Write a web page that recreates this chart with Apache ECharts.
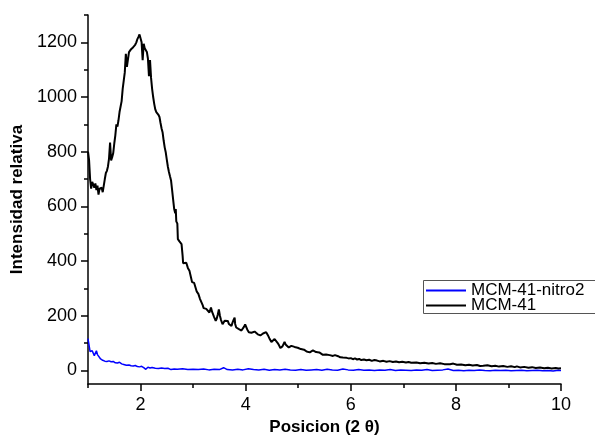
<!DOCTYPE html>
<html>
<head>
<meta charset="utf-8">
<script src="https://cdn.jsdelivr.net/npm/echarts@6/dist/echarts.min.js"></script>
<style>html,body{margin:0;padding:0;background:#fff}#c{width:595px;height:441px}</style>
</head>
<body>
<div id="c"></div>
<script>
// ---- data ----
var seriesNames = ['MCM-41-nitro2', 'MCM-41'];
var xTickLabels = [2, 4, 6, 8, 10];
var xMinorTicks = [1, 3, 5, 7, 9];
var yTickLabels = [0, 200, 400, 600, 800, 1000, 1200];
var yMinorTicks = [100, 300, 500, 700, 900, 1100, 1300];

var mcm41 = [
[1.00,800],[1.02,770],[1.04,700],[1.06,665],[1.08,690],[1.10,680],[1.12,668],[1.14,684],[1.16,660],[1.18,676],
[1.20,643],[1.22,665],[1.24,672],[1.26,668],[1.28,652],[1.30,648],[1.32,700],[1.34,722],[1.36,730],[1.38,746],
[1.40,775],[1.42,833],[1.44,768],[1.46,780],[1.48,795],[1.50,830],[1.52,860],[1.54,900],[1.56,892],[1.58,915],
[1.60,945],[1.62,940],[1.64,985],[1.66,1030],[1.68,1060],[1.70,1090],[1.72,1158],[1.74,1110],[1.76,1115],[1.78,1164],
[1.80,1160],[1.82,1175],[1.84,1172],[1.86,1182],[1.88,1188],[1.90,1192],[1.92,1200],[1.94,1212],[1.96,1220],[1.98,1229],
[2.00,1226],[2.02,1200],[2.04,1135],[2.06,1195],[2.08,1178],[2.10,1172],[2.12,1165],[2.14,1141],[2.16,1076],[2.18,1135],
[2.20,1070],[2.22,1030],[2.24,1000],[2.26,975],[2.28,955],[2.30,945],[2.32,938],[2.34,935],[2.36,927],[2.38,905],
[2.40,885],[2.42,870],[2.44,840],[2.46,815],[2.48,797],[2.50,770],[2.52,745],[2.54,726],[2.56,710],[2.58,695],
[2.60,660],[2.62,625],[2.64,590],[2.66,575],[2.67,590],[2.68,545],[2.70,537],[2.71,480],[2.74,472],[2.76,466],
[2.78,462],[2.80,420],[2.81,392],[2.84,392],[2.87,394],[2.90,375],[2.93,365],[2.96,340],[2.98,323],[3.02,320],
[3.05,317],[3.07,288],[3.10,280],[3.13,262],[3.16,262],[3.18,240],[3.20,228],[3.22,223],[3.25,225],[3.28,218],
[3.31,212],[3.34,230],[3.36,215],[3.38,211],[3.40,195],[3.43,181],[3.45,190],[3.47,205],[3.49,223],[3.51,200],
[3.53,185],[3.56,169],[3.58,175],[3.60,182],[3.63,178],[3.66,181],[3.68,170],[3.70,165],[3.73,163],[3.75,175],
[3.77,185],[3.79,193],[3.80,170],[3.82,157],[3.85,155],[3.88,150],[3.90,148],[3.92,146],[3.95,150],[3.97,160],
[3.99,168],[4.01,169],[4.03,150],[4.06,140],[4.08,134],[4.11,138],[4.14,145],[4.17,142],[4.20,140],[4.23,132],
[4.26,136],[4.28,128],[4.30,128],[4.33,135],[4.36,142],[4.39,140],[4.42,130],[4.45,118],[4.47,112],[4.49,104],
[4.52,108],[4.55,115],[4.58,110],[4.61,100],[4.64,90],[4.66,82],[4.68,75],[4.70,88],[4.72,95],[4.74,104],
[4.76,95],[4.79,88],[4.82,84],[4.84,81],[4.87,90],[4.90,84],[4.93,86],[4.96,80],[4.99,83],[5.02,76],
[5.05,78],[5.08,72],[5.11,76],[5.14,70],[5.16,69],[5.19,72],[5.22,66],[5.25,70],[5.28,73],[5.31,75],
[5.34,67],[5.37,62],[5.40,66],[5.43,60],[5.47,57],[5.50,62],[5.53,58],[5.56,55],[5.60,56],[5.63,52],
[5.66,53],[5.70,56],[5.73,50],[5.76,52],[5.80,48],[5.85,47],[5.88,50],[5.92,46],[5.96,44],[6.00,45],
[6.04,41],[6.08,44],[6.12,40],[6.16,42],[6.20,38],[6.25,40],[6.30,37],[6.35,39],[6.40,35],[6.45,38],
[6.50,36],[6.55,33],[6.62,35],[6.68,32],[6.74,34],[6.80,31],[6.86,33],[6.92,30],[6.98,32],[7.05,29],
[7.10,31],[7.15,28],[7.25,29],[7.32,26],[7.40,28],[7.48,25],[7.55,27],[7.62,24],[7.70,26],[7.78,23],
[7.89,23],[7.95,25],[8.02,21],[8.10,22],[8.18,19],[8.25,21],[8.32,18],[8.40,20],[8.46,16],[8.52,17],
[8.60,19],[8.68,15],[8.75,17],[8.82,14],[8.90,16],[8.98,13],[9.05,15],[9.12,12],[9.16,15],[9.22,11],
[9.30,13],[9.38,10],[9.45,12],[9.52,9],[9.60,11],[9.68,8],[9.75,10],[9.82,7],[9.90,9],[9.95,7],[10.0,8]
];

var mcm41Nitro2 = [
[1.00,116],[1.02,110],[1.04,69],[1.06,70],[1.08,72],[1.10,66],[1.12,54],[1.14,60],[1.16,72],[1.18,58],
[1.20,51],[1.24,42],[1.28,37],[1.32,34],[1.36,33],[1.40,35],[1.44,32],[1.48,33],[1.52,28],[1.56,27],
[1.60,30],[1.64,24],[1.68,22],[1.73,19],[1.78,20],[1.82,17],[1.86,16],[1.90,18],[1.94,14],[1.98,13],
[2.02,15],[2.06,10],[2.10,4],[2.14,12],[2.18,9],[2.22,11],[2.28,8],[2.34,7],[2.40,9],[2.46,7],
[2.52,8],[2.58,3],[2.64,5],[2.70,4],[2.80,6],[2.90,3],[3.00,4],[3.10,3],[3.20,5],[3.30,2],
[3.40,4],[3.50,3],[3.58,10],[3.65,3],[3.75,2],[3.85,4],[3.95,2],[4.05,6],[4.15,3],[4.25,2],
[4.35,4],[4.45,1],[4.55,3],[4.65,2],[4.75,4],[4.85,2],[4.95,1],[5.05,3],[5.15,1],[5.25,2],
[5.35,3],[5.45,1],[5.55,4],[5.65,2],[5.75,1],[5.85,5],[5.95,2],[6.05,1],[6.15,3],[6.25,1],
[6.35,2],[6.45,0],[6.55,2],[6.65,1],[6.75,3],[6.85,0],[6.95,2],[7.05,1],[7.15,0],[7.25,2],
[7.35,1],[7.45,3],[7.55,0],[7.65,1],[7.75,2],[7.85,5],[7.95,0],[8.05,1],[8.15,-1],[8.25,1],
[8.35,0],[8.45,2],[8.55,0],[8.65,-1],[8.75,1],[8.85,0],[8.95,1],[9.05,-1],[9.15,0],[9.25,1],
[9.35,-1],[9.45,0],[9.55,1],[9.65,-1],[9.75,0],[9.85,-2],[9.95,1],[10.0,0]
];

var FONT = '"Liberation Sans", Arial, sans-serif';
var chart = echarts.init(document.getElementById('c'), null, {renderer: 'canvas'});
var axisLineStyle = {color: '#000', width: 1.5};
var plain = function (v) { return String(v); };
function legendRow(name, top) {
  return {
    orient: 'horizontal', left: 426, top: top, padding: 0,
    data: [name], selectedMode: false,
    icon: 'rect', itemWidth: 40, itemHeight: 2, itemGap: 0,
    textStyle: {fontFamily: FONT, fontSize: 17, color: '#000'}
  };
}
var option = {
  animation: false,
  backgroundColor: '#fff',
  grid: {left: 88, right: 34, top: 15, bottom: 45.5},
  graphic: [{
    type: 'rect', left: 423, top: 280, z: 0,
    shape: {width: 200, height: 33},
    style: {fill: '#fff', stroke: '#555', lineWidth: 1}
  }],
  legend: [legendRow(seriesNames[0], 282), legendRow(seriesNames[1], 297)],
  xAxis: [
    {type: 'value', min: 1, max: 10, name: 'Posicion (2 \u03b8)', nameLocation: 'middle', nameGap: 29,
     nameTextStyle: {fontFamily: FONT, fontSize: 17, fontWeight: 'bold', color: '#000'},
     axisLine: {show: true, onZero: false, lineStyle: axisLineStyle},
     axisTick: {show: true, inside: false, length: 7, customValues: xTickLabels, lineStyle: {color: '#000', width: 1.5}},
     axisLabel: {customValues: xTickLabels, formatter: plain, margin: 12, fontFamily: FONT, fontSize: 18, color: '#000'},
     splitLine: {show: false}},
    {type: 'value', min: 1, max: 10, position: 'bottom',
     axisLine: {show: false, onZero: false},
     axisTick: {show: true, inside: false, length: 4, customValues: xMinorTicks, lineStyle: {color: '#000', width: 1.5}},
     axisLabel: {show: false}, splitLine: {show: false}}
  ],
  yAxis: [
    {type: 'value', min: -50, max: 1300, name: 'Intensidad relativa', nameLocation: 'middle', nameGap: 60,
     nameTextStyle: {fontFamily: FONT, fontSize: 17, fontWeight: 'bold', color: '#000'},
     axisLine: {show: true, onZero: false, lineStyle: axisLineStyle},
     axisTick: {show: true, inside: false, length: 7, customValues: yTickLabels, lineStyle: {color: '#000', width: 1.5}},
     axisLabel: {customValues: yTickLabels, formatter: plain, margin: 11, fontFamily: FONT, fontSize: 18, color: '#000'},
     splitLine: {show: false}},
    {type: 'value', min: -50, max: 1300, position: 'left',
     axisLine: {show: false, onZero: false},
     axisTick: {show: true, inside: false, length: 4, customValues: yMinorTicks, lineStyle: {color: '#000', width: 1.5}},
     axisLabel: {show: false}, splitLine: {show: false}}
  ],
  series: [
    {name: seriesNames[0], type: 'line', data: mcm41Nitro2, showSymbol: false, symbol: 'none',
     xAxisIndex: 0, yAxisIndex: 0, lineStyle: {color: '#0000ff', width: 1.5}, itemStyle: {color: '#0000ff'}},
    {name: seriesNames[1], type: 'line', data: mcm41, showSymbol: false, symbol: 'none',
     xAxisIndex: 0, yAxisIndex: 0, lineStyle: {color: '#000', width: 2}, itemStyle: {color: '#000'}}
  ]
};
chart.setOption(option);
</script>
</body>
</html>
